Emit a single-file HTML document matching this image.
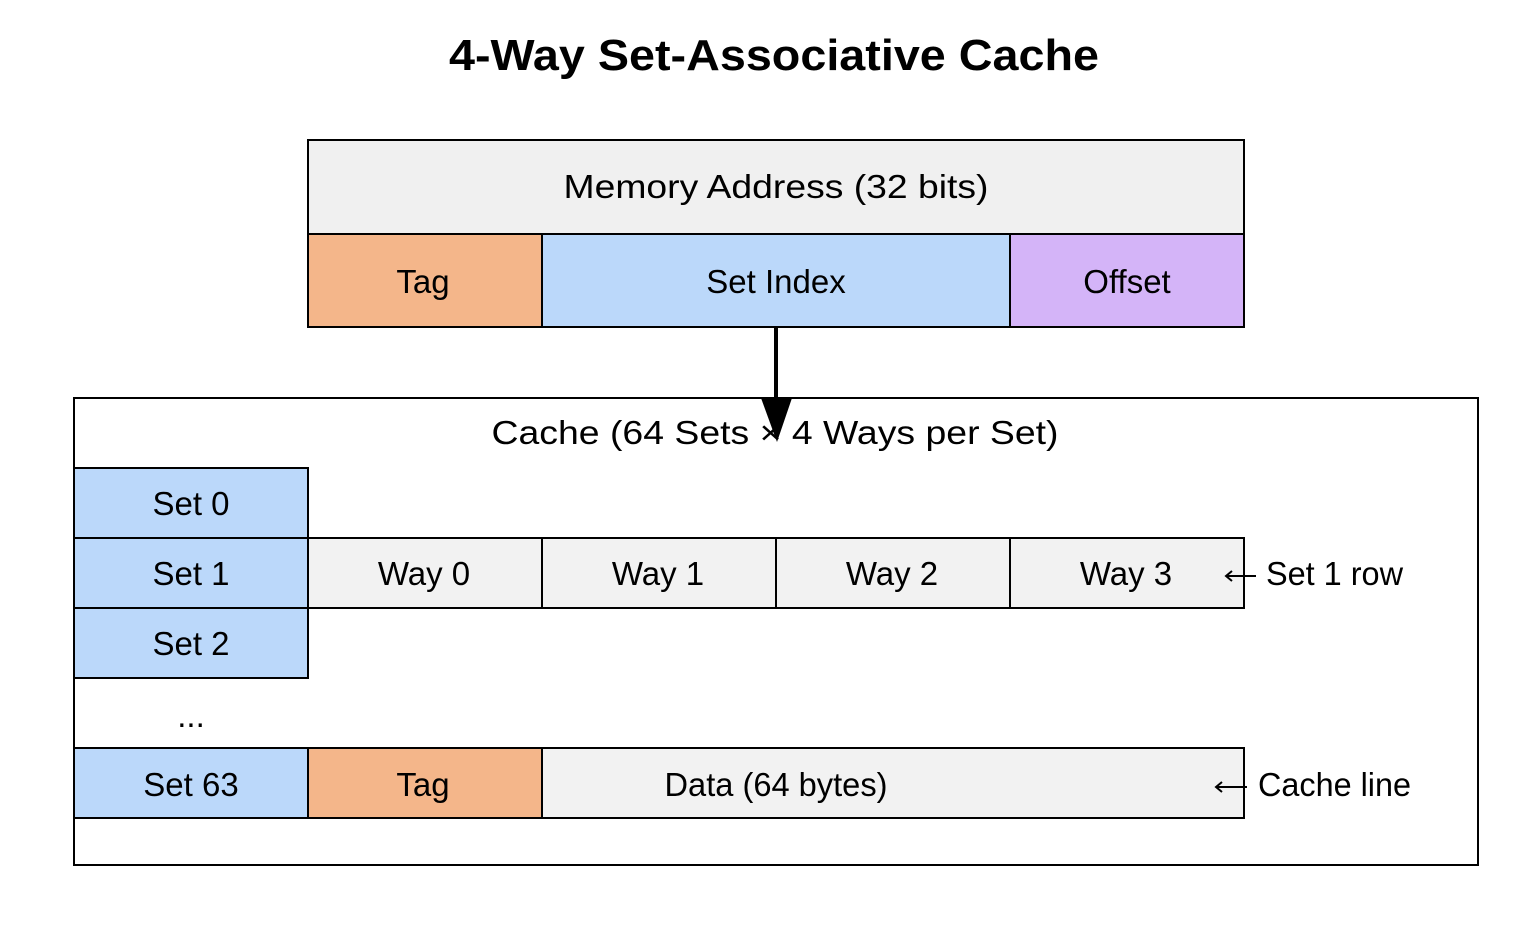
<!DOCTYPE html>
<html><head><meta charset="utf-8"><style>html,body{margin:0;padding:0;background:#fff}</style></head>
<body>
<svg width="1526" height="940" viewBox="0 0 1526 940" xmlns="http://www.w3.org/2000/svg" font-family="Liberation Sans, Arial, sans-serif">
<rect width="1526" height="940" fill="#fff"/>
<text x="774" y="70" text-anchor="middle" font-size="44" font-weight="bold" textLength="650" lengthAdjust="spacingAndGlyphs">4-Way Set-Associative Cache</text>
<g stroke="#000" stroke-width="2">
<rect x="308" y="140" width="936" height="94" fill="#f0f0f0"/>
<rect x="308" y="234" width="234" height="93" fill="#f4b68a"/>
<rect x="542" y="234" width="468" height="93" fill="#bbd8fa"/>
<rect x="1010" y="234" width="234" height="93" fill="#d4b4f8"/>
<rect x="74" y="398" width="1404" height="467" fill="#fff"/>
<rect x="74" y="468" width="234" height="70" fill="#bbd8fa"/>
<rect x="74" y="538" width="234" height="70" fill="#bbd8fa"/>
<rect x="74" y="608" width="234" height="70" fill="#bbd8fa"/>
<rect x="308" y="538" width="234" height="70" fill="#f2f2f2"/>
<rect x="542" y="538" width="234" height="70" fill="#f2f2f2"/>
<rect x="776" y="538" width="234" height="70" fill="#f2f2f2"/>
<rect x="1010" y="538" width="234" height="70" fill="#f2f2f2"/>
<rect x="74" y="748" width="234" height="70" fill="#bbd8fa"/>
<rect x="308" y="748" width="234" height="70" fill="#f4b68a"/>
<rect x="542" y="748" width="702" height="70" fill="#f2f2f2"/>
</g>
<g font-size="33" text-anchor="middle" fill="#000">
<text x="776" y="198" textLength="425" lengthAdjust="spacingAndGlyphs">Memory Address (32 bits)</text>
<text x="423" y="293">Tag</text>
<text x="776" y="293">Set Index</text>
<text x="1127" y="293">Offset</text>
<text x="775" y="444" textLength="567" lengthAdjust="spacingAndGlyphs">Cache (64 Sets × 4 Ways per Set)</text>
<text x="191" y="515">Set 0</text>
<text x="191" y="585">Set 1</text>
<text x="191" y="655">Set 2</text>
<text x="191" y="727">...</text>
<text x="191" y="796">Set 63</text>
<text x="424" y="585">Way 0</text>
<text x="658" y="585">Way 1</text>
<text x="892" y="585">Way 2</text>
<text x="1126" y="585">Way 3</text>
<text x="423" y="796">Tag</text>
<text x="776" y="796" textLength="223" lengthAdjust="spacingAndGlyphs">Data (64 bytes)</text>
<text x="1266" y="585" text-anchor="start" textLength="137" lengthAdjust="spacingAndGlyphs">Set 1 row</text>
<text x="1258" y="796" text-anchor="start" textLength="153" lengthAdjust="spacingAndGlyphs">Cache line</text>
</g>
<g stroke="#000" stroke-width="2" fill="none">
<line x1="1226" y1="576" x2="1256" y2="576"/>
<polyline points="1232,571 1226,576 1232,581"/>
<line x1="1216" y1="787" x2="1247" y2="787"/>
<polyline points="1222,782 1216,787 1222,792"/>
</g>
<line x1="776" y1="327" x2="776" y2="404" stroke="#000" stroke-width="4"/>
<polygon points="761,398 792,398 777,442" fill="#000"/>
</svg>
</body></html>
